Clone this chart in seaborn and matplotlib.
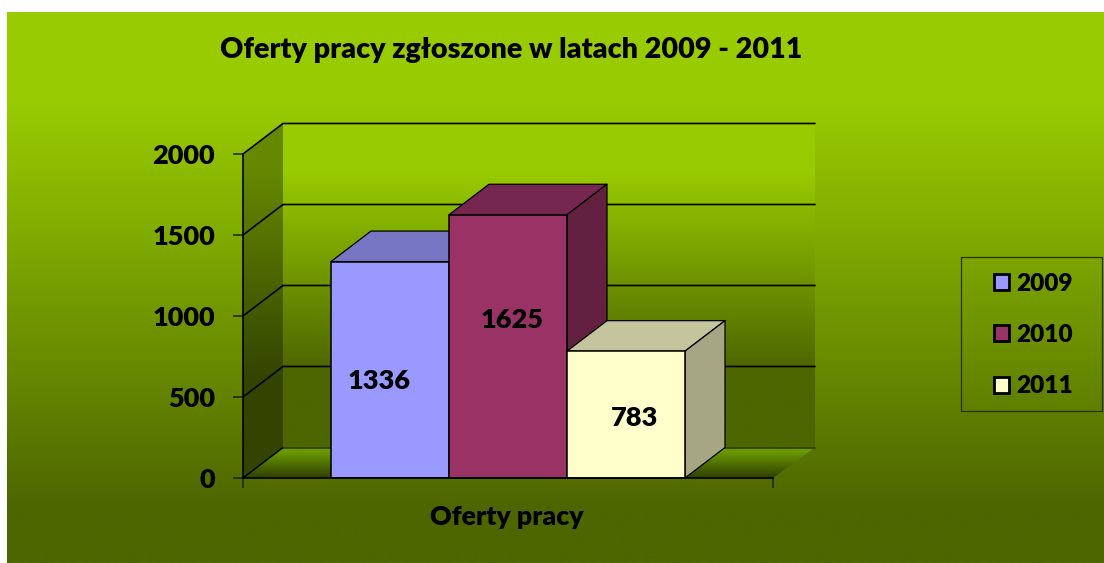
import numpy as np
import pandas as pd
import matplotlib
matplotlib.use("Agg")
import matplotlib.pyplot as plt
from matplotlib.patches import Polygon, Rectangle
import seaborn as sns

# ---- data ----
title_text = "Oferty pracy zgłoszone w latach 2009 - 2011"
category = ["Oferty pracy"]
years = ["2009", "2010", "2011"]
values = [1336, 1625, 783]
colors = ["#9999FF", "#993366", "#FFFFCC"]
y_ticks = [0, 500, 1000, 1500, 2000]
label_offsets_px = [(-11, 11), (4, -26), (8, 3)]  # right, down from bar centre

W, H = 1104, 563
DPI = 100
AX_L, AX_R, AX_T, AX_B = 243, 773, 154, 478
DEPTH_X_PX, DEPTH_Y_PX = 40, 30.5
WEIGHT = 800

sns.set_theme(style="white")
plt.rcParams["font.family"] = ["Lato", "DejaVu Sans"]
plt.rcParams["font.weight"] = WEIGHT
plt.rcParams["text.color"] = "black"

fig = plt.figure(figsize=(W / DPI, H / DPI), dpi=DPI, facecolor="white")


def hex_rgb(c):
    return np.array(matplotlib.colors.to_rgb(c))


def ramp(y_from, y_to, stops, n=400):
    """Vertical colour ramp; stops = [(pixel y, colour), ...]."""
    ys = np.linspace(y_from, y_to, n)
    px = [s[0] for s in stops]
    cols = np.array([hex_rgb(s[1]) for s in stops])
    return np.stack([np.interp(ys, px, cols[:, k]) for k in range(3)], axis=1)[:, None, :]


# page background
bg = fig.add_axes([7 / W, 0, (W - 7) / W, (H - 12) / H], zorder=0)
bg.imshow(ramp(12, H, [(100, "#99CC00"), (510, "#4D6600")]), aspect="auto",
          interpolation="bilinear", extent=[0, 1, 0, 1])
bg.axis("off")

ax = fig.add_axes([AX_L / W, (H - AX_B) / H, (AX_R - AX_L) / W, (AX_B - AX_T) / H], zorder=1)
ax.patch.set_alpha(0)

df = pd.DataFrame({"category": category * len(years), "year": years, "value": values})
sns.barplot(data=df, x="category", y="value", hue="year", hue_order=years,
            palette=colors, width=354 / 530, dodge=True, legend=False,
            edgecolor="black", linewidth=1.1, saturation=1, ax=ax)

XL, XR = -0.5, 0.5
YMAX = y_ticks[-1]
ax.set_xlim(XL, XR)
ax.set_ylim(0, YMAX)
dx = DEPTH_X_PX / (AX_R - AX_L) * (XR - XL)
dy = DEPTH_Y_PX / (AX_B - AX_T) * YMAX
XB = XR + dx + 2 / (AX_R - AX_L)  # right end of the back wall


def grad_poly(pts, img, extent, z):
    im = ax.imshow(img, aspect="auto", interpolation="bilinear", extent=extent, zorder=z)
    poly = Polygon(pts, closed=True, transform=ax.transData, facecolor="none", edgecolor="none")
    ax.add_patch(poly)
    poly.set_clip_on(False)
    im.set_clip_box(fig.bbox)
    im.set_clip_path(poly)


def y_px(v):
    return AX_B - v / YMAX * (AX_B - AX_T)


# back wall
back = [(XL + dx, dy), (XB, dy), (XB, YMAX + dy), (XL + dx, YMAX + dy)]
grad_poly(back, ramp(y_px(YMAX + dy), y_px(dy), [(170, "#99CC00"), (370, "#4D6600")]),
          [XL + dx, XB, dy, YMAX + dy], 0.5)
# side wall
side = [(XL, 0), (XL + dx, dy), (XL + dx, YMAX + dy), (XL, YMAX)]
grad_poly(side, ramp(y_px(YMAX + dy), y_px(0), [(170, "#668800"), (380, "#334400")]),
          [XL, XL + dx, 0, YMAX + dy], 0.6)
# floor
floor = [(XL, 0), (XR, 0), (XB, dy), (XL + dx, dy)]
grad_poly(floor, ramp(y_px(dy), y_px(0), [(452, "#6B9900"), (478, "#2F3F00")]),
          [XL, XB, 0, dy], 0.7)

# grid on the walls
for v in y_ticks:
    if v == 0:
        ax.plot([XL, XL + dx], [0, dy], color="black", lw=1.1, clip_on=False, zorder=0.9)
        ax.plot([XL + dx, XB], [dy, dy], color="#263300", lw=1.1, clip_on=False, zorder=0.9)
        continue
    ax.plot([XL, XL + dx, XB], [v, v + dy, v + dy], color="black", lw=1.2,
            clip_on=False, zorder=0.9, solid_joinstyle="miter")

# 3D faces and value labels, built from the seaborn bars
for i, cont in enumerate(ax.containers):
    bar = cont[0]
    x0, w, h = bar.get_x(), bar.get_width(), bar.get_height()
    base = hex_rgb(colors[i])
    top = [(x0, h), (x0 + w, h), (x0 + w + dx, h + dy), (x0 + dx, h + dy)]
    right = [(x0 + w, 0), (x0 + w + dx, dy), (x0 + w + dx, h + dy), (x0 + w, h)]
    z = 2 + i
    ax.add_patch(Polygon(top, closed=True, facecolor=base * 0.77, edgecolor="black",
                         linewidth=0.9, clip_on=False, zorder=z, joinstyle="round"))
    ax.add_patch(Polygon(right, closed=True, facecolor=base * 0.65, edgecolor="black",
                         linewidth=0.9, clip_on=False, zorder=z, joinstyle="round"))
    bar.set_zorder(z + 0.5)
    bar.set_clip_on(False)
    ox, oy = label_offsets_px[i]
    ax.annotate(str(values[i]), (x0 + w / 2, h / 2), xytext=(ox * 72 / DPI, -oy * 72 / DPI),
                textcoords="offset points", ha="center", va="center", fontsize=19.5,
                fontweight=WEIGHT, color="black", zorder=10)

# axes dressing
sns.despine(ax=ax, top=True, right=True)
for s in ("left", "bottom"):
    ax.spines[s].set_color("black")
    ax.spines[s].set_linewidth(1.2)
    ax.spines[s].set_zorder(1.5)
ax.spines["bottom"].set_zorder(9)
ax.set_yticks(y_ticks)
ax.set_yticklabels([str(t) for t in y_ticks], fontsize=19.5, fontweight=WEIGHT, color="black")
ax.set_xticks([XL, XR])
ax.set_xticklabels(["", ""])
ax.tick_params(axis="both", length=7, width=1.1, color="#1A2200", left=True, bottom=True)
ax.tick_params(axis="y", pad=13)
ax.set_ylabel("")
ax.set_xlabel(category[0], fontsize=19.3, fontweight=WEIGHT, color="black", va="baseline")
ax.xaxis.set_label_coords((507 - AX_L) / (AX_R - AX_L), (AX_B - 525) / (AX_B - AX_T))
ax.set_title(title_text, fontsize=20.7, fontweight=WEIGHT, color="black", va="baseline",
             x=(511 - AX_L) / (AX_R - AX_L), y=(AX_B - 58) / (AX_B - AX_T), pad=0)

# legend
handles = [Rectangle((0, 0), 1, 1, facecolor=c, edgecolor="black", linewidth=2) for c in colors]
leg = fig.legend(handles, years, loc="center", bbox_to_anchor=(1033.5 / W, (H - 335) / H),
                 frameon=False, handlelength=0.62, handleheight=0.62, handletextpad=0.3,
                 labelspacing=1.2, borderpad=0, labelcolor="black",
                 prop={"size": 17.6, "weight": WEIGHT})
fig.add_artist(Rectangle((961 / W, (H - 411) / H), 141 / W, 154 / H, transform=fig.transFigure,
                         facecolor="none", edgecolor="#263300", linewidth=0.9))

fig.savefig("out.png", dpi=DPI, facecolor="white")
